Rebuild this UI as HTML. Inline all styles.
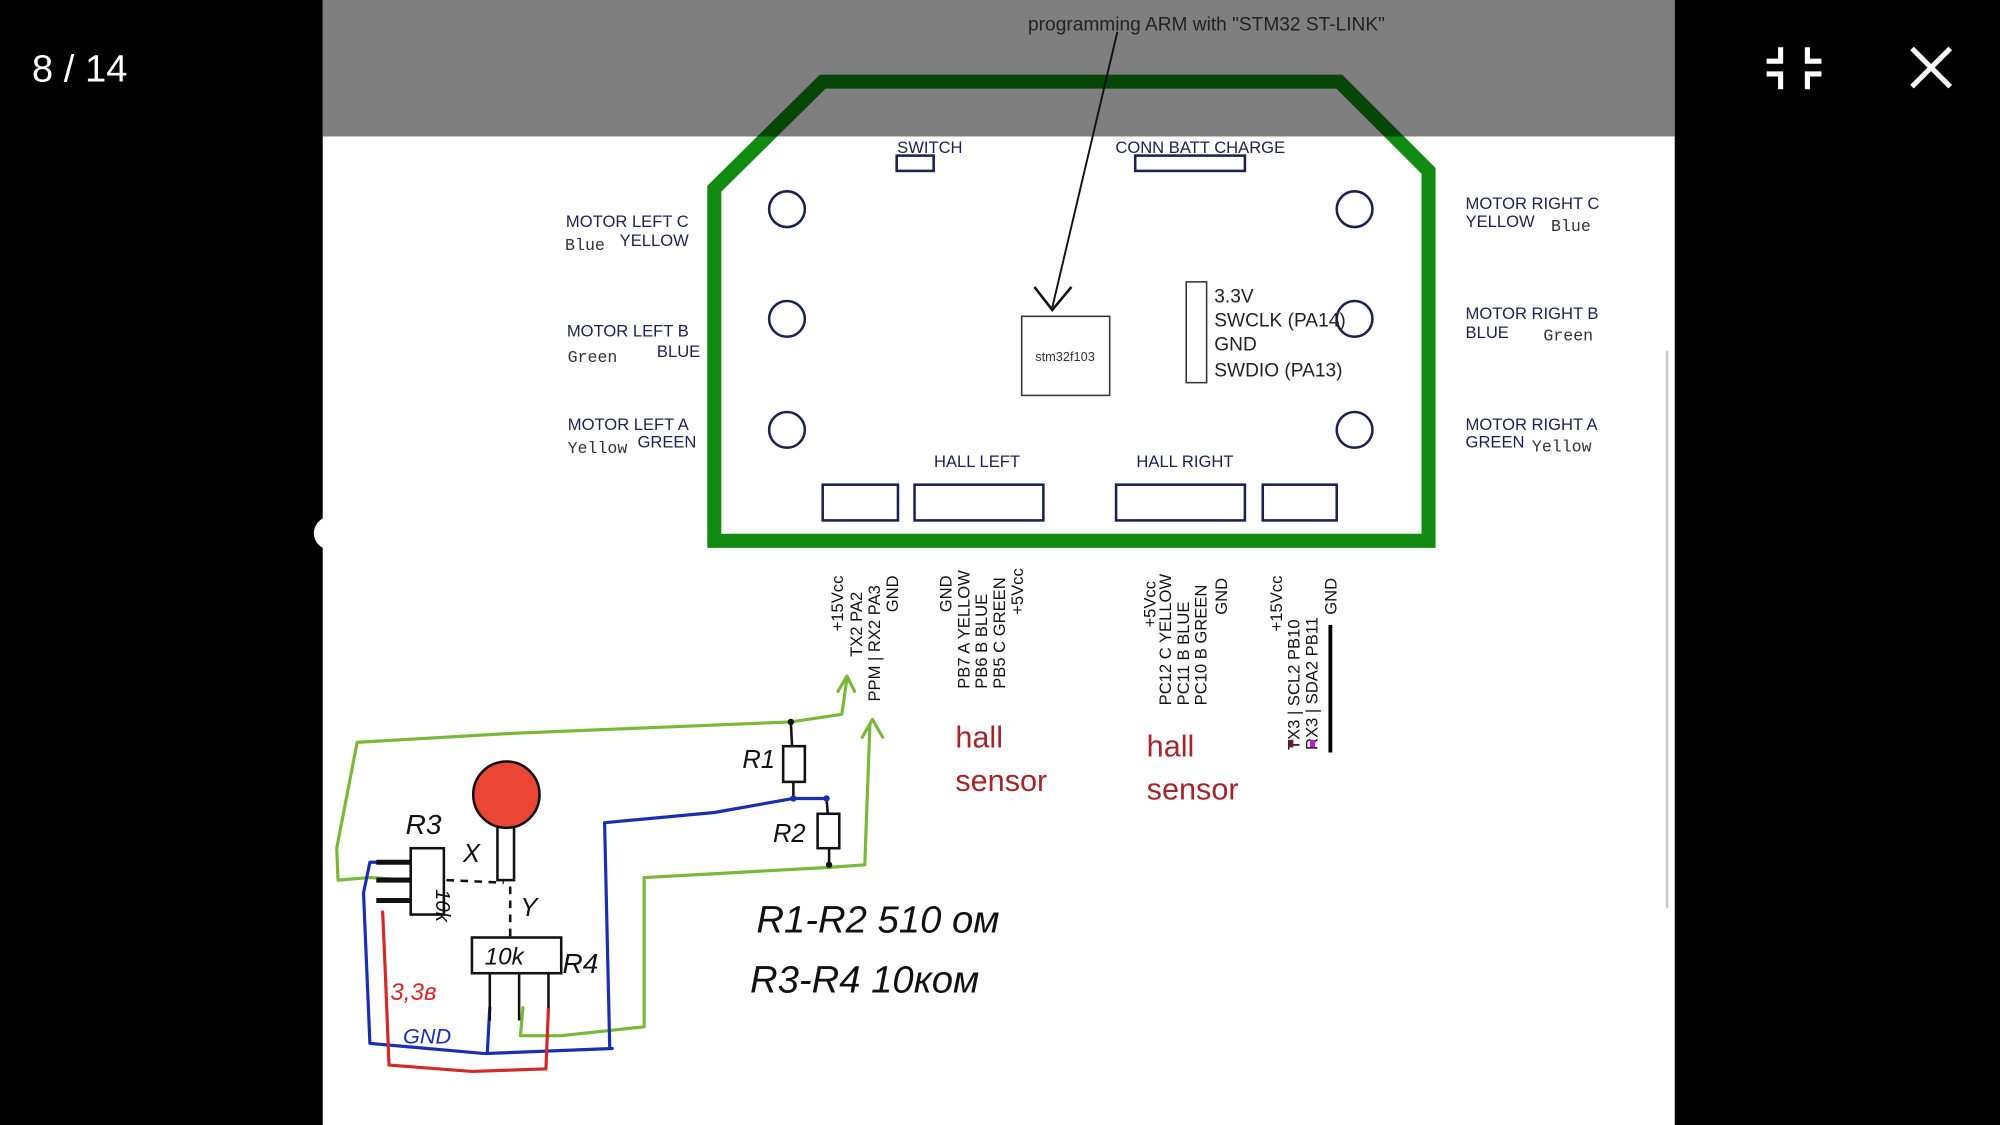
<!DOCTYPE html>
<html><head><meta charset="utf-8"><style>
html,body{margin:0;padding:0;background:#000;width:2000px;height:1125px;overflow:hidden}
svg{display:block}
text{font-family:"Liberation Sans",sans-serif}
.m{font-family:"Liberation Mono",monospace}
.h{font-family:"Liberation Sans",sans-serif;font-style:italic}
</style></head><body>
<svg width="2000" height="1125" viewBox="0 0 1568 882" preserveAspectRatio="none" xmlns="http://www.w3.org/2000/svg">
<rect x="0" y="0" width="1568" height="882" fill="#000"/>
<rect x="253" y="0" width="1060" height="882" fill="#fff"/>
<ellipse cx="262" cy="418" rx="16" ry="14" fill="#fff"/>
<line x1="1307" y1="275" x2="1307" y2="712" stroke="#ccc" stroke-width="2"/>

<!-- board -->
<path d="M560,148 L645,64 L1050,64 L1120,134 L1120,424 L560,424 Z" fill="none" stroke="#118a11" stroke-width="11" stroke-linejoin="miter"/>
<g fill="none" stroke="#1c2150" stroke-width="2">
<circle cx="617" cy="164" r="14"/><circle cx="617" cy="250" r="14"/><circle cx="617" cy="337" r="14"/>
<circle cx="1062" cy="164" r="14"/><circle cx="1062" cy="250" r="14"/><circle cx="1062" cy="337" r="14"/>
<rect x="703" y="122" width="29" height="12"/><rect x="890" y="122" width="86" height="12"/>
<rect x="645" y="380" width="59" height="28"/><rect x="717" y="380" width="101" height="28"/>
<rect x="875" y="380" width="101" height="28"/><rect x="990" y="380" width="58" height="28"/>
</g>
<rect x="801" y="248" width="69" height="62" fill="#fff" stroke="#333" stroke-width="1.2"/>
<text x="835" y="283" font-size="10" text-anchor="middle" fill="#333">stm32f103</text>
<rect x="930" y="221" width="16" height="79" fill="#fff" stroke="#333" stroke-width="1.2"/>
<g font-size="15" fill="#222">
<text x="952" y="237">3.3V</text><text x="952" y="256">SWCLK (PA14)</text>
<text x="952" y="275">GND</text><text x="952" y="295">SWDIO (PA13)</text>
</g>
<g font-size="13" fill="#1c2150">
<text x="729" y="120" text-anchor="middle">SWITCH</text>
<text x="941" y="120" text-anchor="middle">CONN BATT CHARGE</text>
<text x="766" y="366" text-anchor="middle">HALL LEFT</text>
<text x="929" y="366" text-anchor="middle">HALL RIGHT</text>
<text x="540" y="178" text-anchor="end">MOTOR LEFT C</text><text x="540" y="193" text-anchor="end">YELLOW</text>
<text x="540" y="264" text-anchor="end">MOTOR LEFT B</text><text x="549" y="280" text-anchor="end">BLUE</text>
<text x="540" y="337" text-anchor="end">MOTOR LEFT A</text><text x="546" y="351" text-anchor="end">GREEN</text>
<text x="1149" y="164">MOTOR RIGHT C</text><text x="1149" y="178">YELLOW</text>
<text x="1149" y="250">MOTOR RIGHT B</text><text x="1149" y="265">BLUE</text>
<text x="1149" y="337">MOTOR RIGHT A</text><text x="1149" y="351">GREEN</text>
</g>
<g font-size="13" fill="#333" class="m">
<text class="m" x="443" y="196">Blue</text><text class="m" x="445" y="284">Green</text><text class="m" x="445" y="355">Yellow</text>
<text class="m" x="1216" y="181">Blue</text><text class="m" x="1210" y="267">Green</text><text class="m" x="1201" y="354">Yellow</text>
</g>
<!-- gray overlay -->
<rect x="253" y="0" width="1060" height="107" fill="#000" opacity="0.5"/>
<text x="806" y="24" font-size="15" fill="#222">programming ARM with "STM32 ST-LINK"</text>
<line x1="876" y1="25" x2="825" y2="241" stroke="#111" stroke-width="1.5"/>
<polyline points="811,225 825,243 840,225" fill="none" stroke="#111" stroke-width="2"/>

<!-- rotated pin labels -->
<g font-size="13" fill="#111">
<text transform="translate(661,495) rotate(-90)">+15Vcc</text>
<text transform="translate(676,515) rotate(-90)">TX2  PA2</text>
<text transform="translate(690,550) rotate(-90)">PPM | RX2  PA3</text>
<text transform="translate(704,480) rotate(-90)">GND</text>
<text transform="translate(746,480) rotate(-90)">GND</text>
<text transform="translate(760,540) rotate(-90)">PB7 A YELLOW</text>
<text transform="translate(774,540) rotate(-90)">PB6 B BLUE</text>
<text transform="translate(788,540) rotate(-90)">PB5 C GREEN</text>
<text transform="translate(802,482) rotate(-90)">+5Vcc</text>
<text transform="translate(906,492) rotate(-90)">+5Vcc</text>
<text transform="translate(918,553) rotate(-90)">PC12 C YELLOW</text>
<text transform="translate(932,553) rotate(-90)">PC11 B BLUE</text>
<text transform="translate(946,553) rotate(-90)">PC10 B GREEN</text>
<text transform="translate(962,482) rotate(-90)">GND</text>
<text transform="translate(1005,495) rotate(-90)">+15Vcc</text>
<text transform="translate(1019,588) rotate(-90)">TX3 | SCL2 PB10</text>
<text transform="translate(1033,588) rotate(-90)">RX3 | SDA2 PB11</text>
<text transform="translate(1048,482) rotate(-90)">GND</text>
</g>
<line x1="1043" y1="490" x2="1043" y2="590" stroke="#000" stroke-width="3"/>
<rect x="1010" y="580" width="4" height="6" fill="#6a1a3a"/><rect x="1027" y="580" width="4" height="6" fill="#b020d0"/>
<g font-size="24" fill="#a4262c">
<text x="749" y="586">hall</text><text x="749" y="620">sensor</text>
<text x="899" y="593">hall</text><text x="899" y="627">sensor</text>
</g>

<!-- hand drawn circuit -->
<g fill="none" stroke-width="2.5" stroke-linejoin="round" stroke-linecap="round">
<polyline stroke="#7ab83a" points="320,690 290,688 265,690 264,665 280,582 400,575 620,566 660,560 664,532"/>
<polyline stroke="#7ab83a" points="657,542 664,530 670,542"/>
<polyline stroke="#7ab83a" points="410,790 408,812 440,812 505,805 505,688 560,685 650,680 678,678 682,568"/>
<polyline stroke="#7ab83a" points="676,578 684,564 692,578"/>
<polyline stroke="#1a2fb0" points="478,820 474,645 560,637 622,626 648,626"/>
<polyline stroke="#1a2fb0" points="320,676 290,676 285,700 290,818 380,826 480,822"/>
<polyline stroke="#1a2fb0" points="384,790 382,826"/>
<polyline stroke="#d12a2a" points="300,715 302,760 305,835 370,840 428,838 430,790"/>
</g>
<g fill="none" stroke="#111" stroke-width="2">
<line x1="620" y1="566" x2="621" y2="585"/><rect x="614" y="585" width="17" height="28"/><line x1="622" y1="613" x2="622" y2="626"/>
<line x1="648" y1="626" x2="649" y2="638"/><rect x="641" y="638" width="17" height="27"/><line x1="650" y1="665" x2="650" y2="678"/>
<rect x="322" y="665" width="26" height="52"/>
<rect x="370" y="735" width="70" height="28"/>
<line x1="384" y1="763" x2="384" y2="800"/><line x1="407" y1="763" x2="407" y2="800"/><line x1="430" y1="763" x2="430" y2="790"/>
<line x1="350" y1="690" x2="395" y2="692" stroke-dasharray="6,5"/>
<line x1="400" y1="695" x2="400" y2="735" stroke-dasharray="6,5"/>
<rect x="390" y="645" width="13" height="45" fill="#fff"/>
</g>
<g stroke="#111" stroke-width="4">
<line x1="295" y1="676" x2="322" y2="676"/><line x1="295" y1="690" x2="322" y2="690"/><line x1="295" y1="706" x2="322" y2="706"/>
</g>
<circle cx="397" cy="623" r="26" fill="#ea4535" stroke="#111" stroke-width="2"/>
<circle cx="620" cy="566" r="2.5" fill="#111"/><circle cx="622" cy="626" r="2.5" fill="#1a2fb0"/><circle cx="648" cy="626" r="2.5" fill="#1a2fb0"/><circle cx="650" cy="678" r="2.5" fill="#111"/>
<g class="h" fill="#111">
<text class="h" x="318" y="654" font-size="22">R3</text>
<text class="h" x="363" y="676" font-size="20">X</text>
<text class="h" x="408" y="718" font-size="20">Y</text>
<text class="h" x="343" y="686" font-size="16" transform="rotate(90 337 691)">10k</text>
<text class="h" x="380" y="756" font-size="19">10k</text>
<text class="h" x="441" y="763" font-size="22">R4</text>
<text class="h" x="582" y="602" font-size="20">R1</text>
<text class="h" x="606" y="660" font-size="20">R2</text>
<text class="h" x="593" y="731" font-size="30">R1-R2 510 ом</text>
<text class="h" x="588" y="778" font-size="30">R3-R4 10ком</text>
</g>
<text class="h" x="306" y="784" font-size="19" fill="#d12a2a">3,3в</text>
<text class="h" x="316" y="818" font-size="17" fill="#1a2fb0">GND</text>

<!-- viewer chrome -->
<text x="25" y="64" font-size="30" fill="#fff">8 / 14</text>
<g stroke="#fff" stroke-width="4" fill="none">
<polyline points="1385,48 1396,48 1396,37"/><polyline points="1417,37 1417,48 1428,48"/>
<polyline points="1385,58 1396,58 1396,70"/><polyline points="1417,70 1417,58 1428,58"/>
<line x1="1499" y1="38" x2="1529" y2="68"/><line x1="1529" y1="38" x2="1499" y2="68"/>
</g>
</svg>
</body></html>
